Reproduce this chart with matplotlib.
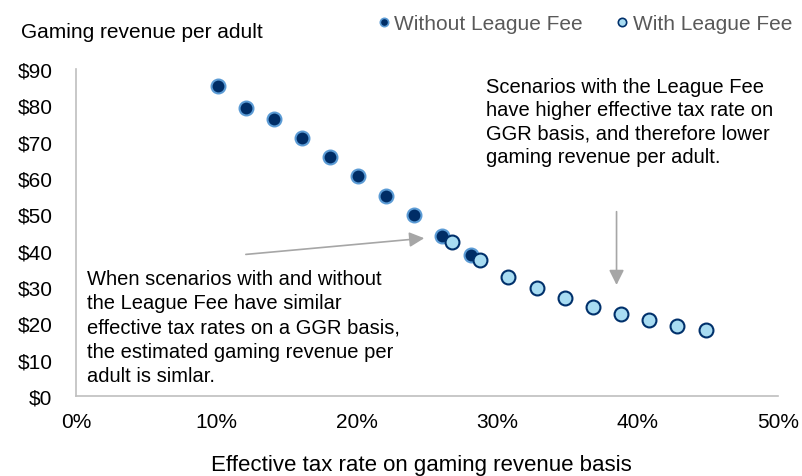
import matplotlib
matplotlib.use("Agg")
import matplotlib.pyplot as plt
from matplotlib.lines import Line2D

plt.rcParams['font.family'] = ['Liberation Sans', 'DejaVu Sans']

# Data
without_x = [10.1, 12.1, 14.1, 16.1, 18.1, 20.1, 22.1, 24.1, 26.1, 28.1]
without_y = [85.2, 79.3, 76.2, 71.1, 65.8, 60.6, 55.0, 49.7, 44.1, 38.8]
with_x = [26.8, 28.8, 30.8, 32.8, 34.8, 36.8, 38.8, 40.8, 42.8, 44.85]
with_y = [42.3, 37.3, 32.8, 29.6, 26.9, 24.6, 22.6, 21.0, 19.4, 18.2]
xticks = [0, 10, 20, 30, 40, 50]
xtick_labels = ['0%', '10%', '20%', '30%', '40%', '50%']
yticks = [0, 10, 20, 30, 40, 50, 60, 70, 80, 90]
ytick_labels = ['$0', '$10', '$20', '$30', '$40', '$50', '$60', '$70', '$80', '$90']

dark = '#002D66'
dark_edge = '#5B9BD5'
light = '#A8DCF2'
light_edge = '#00306B'
gray = '#BFBFBF'

fig = plt.figure(figsize=(8.02, 4.77), dpi=100)
ax = fig.add_axes([76/802, 1-397/477, (778-76)/802, (397-70)/477])

ax.scatter(without_x, without_y, s=100, c=dark, edgecolors=dark_edge, linewidths=1.5, zorder=3)
ax.scatter(with_x, with_y, s=100, c=light, edgecolors=light_edge, linewidths=1.5, zorder=4)

ax.set_xlim(0, 50)
ax.set_ylim(0, 90)
ax.set_xticks(xticks)
ax.set_xticklabels(xtick_labels)
ax.set_yticks(yticks)
ax.set_yticklabels(ytick_labels)
ax.tick_params(axis='both', length=0, labelsize=15, colors='black')
ax.tick_params(axis='x', pad=11.5)
ax.tick_params(axis='y', pad=17)

for s in ['top', 'right']:
    ax.spines[s].set_visible(False)
for s in ['left', 'bottom']:
    ax.spines[s].set_color(gray)
    ax.spines[s].set_linewidth(1.2)

fig.text(0.5 * (210 + 632) / 802, 0.5/477, 'Effective tax rate on gaming revenue basis',
         fontsize=16, va='bottom', ha='center')
fig.text(21/802, 1-32/477, 'Gaming revenue per adult', fontsize=15, va='center', ha='left')

# Annotations
ax.text(29.2, 87.8, 'Scenarios with the League Fee\nhave higher effective tax rate on\nGGR basis, and therefore lower\ngaming revenue per adult.',
        fontsize=14.5, va='top', ha='left', linespacing=1.3)
ax.text(0.8, 34.9, 'When scenarios with and without\nthe League Fee have similar\neffective tax rates on a GGR basis,\nthe estimated gaming revenue per\nadult is simlar.',
        fontsize=14.5, va='top', ha='left', linespacing=1.35)

arrowprops = dict(arrowstyle='-|>,head_length=0.9,head_width=0.45', color='#A6A6A6', lw=1.2)
ax.annotate('', xy=(25.0, 43.5), xytext=(11.9, 38.9), arrowprops=arrowprops)
ax.annotate('', xy=(38.5, 29.8), xytext=(38.5, 51.5), arrowprops=arrowprops)

# Legend
handles = [
    Line2D([], [], linestyle='none', marker='o', markersize=6, markerfacecolor=dark,
           markeredgecolor=dark_edge, markeredgewidth=1.2, label='Without League Fee'),
    Line2D([], [], linestyle='none', marker='o', markersize=6, markerfacecolor=light,
           markeredgecolor=light_edge, markeredgewidth=1.2, label='With League Fee'),
]
leg = fig.legend(handles=handles, loc='center right', bbox_to_anchor=(792/802, 1-25/477), ncol=2,
                 frameon=False, fontsize=15, handletextpad=0.0, columnspacing=1.4,
                 handlelength=1.0, borderaxespad=0, borderpad=0)
for t in leg.get_texts():
    t.set_color('#595959')

fig.savefig('out.png', dpi=100)
